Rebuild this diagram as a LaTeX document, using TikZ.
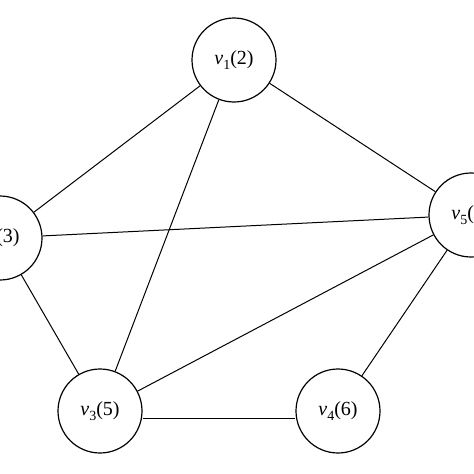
\documentclass[tikz,border=0pt]{standalone}
\usepackage{fontspec}
\setmainfont{Liberation Serif}
\newcommand{\vlab}[2]{\textit{v}\raisebox{-0.25em}{\fontsize{14}{16}\selectfont #1}(#2)}
\begin{document}
\begin{tikzpicture}[x=1pt,y=-1pt,
  vtx/.style={draw,circle,line width=1.2pt,minimum size=84pt,inner sep=0pt,fill=white,font=\fontsize{20}{24}\selectfont},
  edge/.style={line width=1pt}]
\useasboundingbox (0,0) rectangle (474,474);
\clip (0,0) rectangle (474,474);
\fill[white] (0,0) rectangle (474,474);
\node[vtx] (v1) at (234,60) {\vlab{1}{2}};
\node[vtx] (v2) at (0,238) {\vlab{2}{3}};
\node[vtx] (v3) at (100,411) {\vlab{3}{5}};
\node[vtx] (v4) at (338,411) {\vlab{4}{6}};
\node[vtx] (v5) at (471,215) {\vlab{5}{4}};
\draw[edge] (v1) -- (v2);
\draw[edge] (v1) -- (v3);
\draw[edge] (v1) -- (v5);
\draw[edge] (v2) -- (v5);
\draw[edge] (v2) -- (v3);
\draw[edge] (v3) -- (v5);
\draw[edge] ([yshift=-7pt]v3.east) -- ([yshift=-7pt]v4.west);
\draw[edge] (v4) -- (v5);
\end{tikzpicture}
\end{document}
